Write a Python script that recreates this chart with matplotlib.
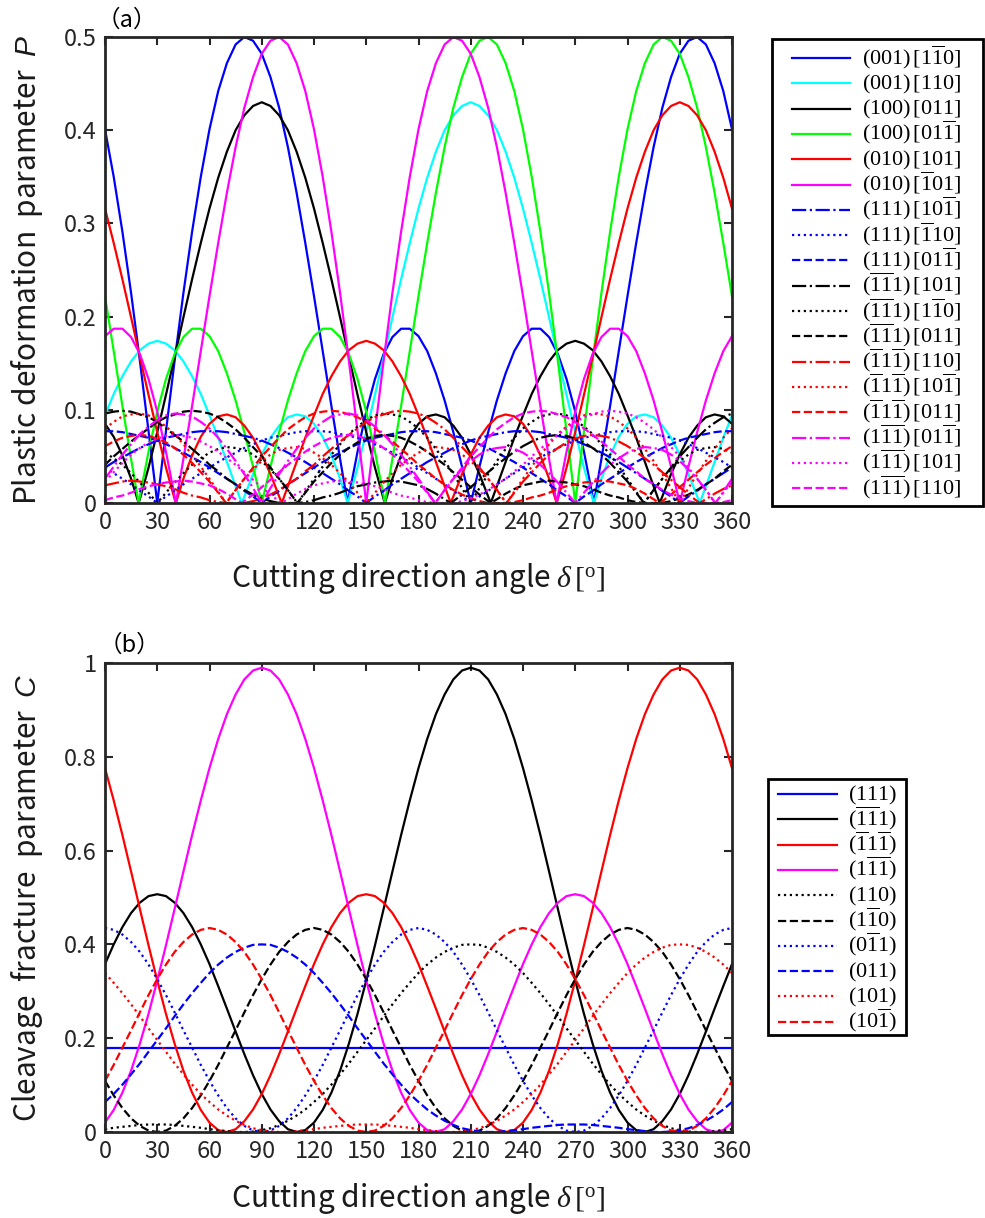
import numpy as np
import matplotlib
matplotlib.use("Agg")
import matplotlib.pyplot as plt
from matplotlib.lines import Line2D
from matplotlib.patches import Rectangle

plt.rcParams['font.family'] = ['Noto Sans CJK JP', 'DejaVu Sans']
plt.rcParams['mathtext.fontset'] = 'custom'
plt.rcParams['mathtext.rm'] = 'Liberation Serif'
plt.rcParams['mathtext.it'] = 'Liberation Serif:italic'
plt.rcParams['mathtext.sf'] = 'Liberation Sans:italic'

# Cutting direction angle (deg), sampled every 5 deg
delta = list(range(0, 361, 5))

# ---- (a) plastic deformation parameter P, values in units of 1e-3 ----
p_001_1b10 = [401,350,291,225,153,77,0,77,153,225,291,350,401,442,472,492,500,496,482,457,424,382,333,279,222,163,104,47,7,55,98,133,160,178,187,187,179,163,139,110,76,39,0,39,76,110,139,163,179,187,187,178,160,133,98,55,7,47,104,163,222,279,333,382,424,457,482,496,500,492,472,442,401]
p_001_110 = [94,117,136,152,164,171,174,171,164,152,136,117,94,70,44,18,7,31,52,70,83,92,95,93,85,71,51,26,4,38,76,116,157,199,240,279,316,349,377,400,416,426,430,426,416,400,377,349,316,279,240,199,157,116,76,38,4,26,51,71,85,93,95,92,83,70,52,31,7,18,44,70,94]
p_100_011 = [85,71,51,26,4,38,76,116,157,199,240,279,316,349,377,400,416,426,430,426,416,400,377,349,316,279,240,199,157,116,76,38,4,26,51,71,85,93,95,92,83,70,52,31,7,18,44,70,94,117,136,152,164,171,174,171,164,152,136,117,94,70,44,18,7,31,52,70,83,92,95,93,85]
p_100_01b1 = [222,163,104,47,7,55,98,133,160,178,187,187,179,163,139,110,76,39,0,39,76,110,139,163,179,187,187,178,160,133,98,55,7,47,104,163,222,279,333,382,424,457,482,496,500,492,472,442,401,350,291,225,153,77,0,77,153,225,291,350,401,442,472,492,500,496,482,457,424,382,333,279,222]
p_010_101 = [316,279,240,199,157,116,76,38,4,26,51,71,85,93,95,92,83,70,52,31,7,18,44,70,94,117,136,152,164,171,174,171,164,152,136,117,94,70,44,18,7,31,52,70,83,92,95,93,85,71,51,26,4,38,76,116,157,199,240,279,316,349,377,400,416,426,430,426,416,400,377,349,316]
p_010_b101 = [179,187,187,178,160,133,98,55,7,47,104,163,222,279,333,382,424,457,482,496,500,492,472,442,401,350,291,225,153,77,0,77,153,225,291,350,401,442,472,492,500,496,482,457,424,382,333,279,222,163,104,47,7,55,98,133,160,178,187,187,179,163,139,110,76,39,0,39,76,110,139,163,179]
p_111_10b1 = [38,44,49,54,59,63,67,70,72,74,76,77,77,77,76,74,72,70,67,63,59,54,49,44,38,32,26,20,13,7,0,7,13,20,26,32,38,44,49,54,59,63,67,70,72,74,76,77,77,77,76,74,72,70,67,63,59,54,49,44,38,32,26,20,13,7,0,7,13,20,26,32,38]
p_111_b110 = [38,32,26,20,13,7,0,7,13,20,26,32,38,44,49,54,59,63,67,70,72,74,76,77,77,77,76,74,72,70,67,63,59,54,49,44,38,32,26,20,13,7,0,7,13,20,26,32,38,44,49,54,59,63,67,70,72,74,76,77,77,77,76,74,72,70,67,63,59,54,49,44,38]
p_111_01b1 = [77,77,76,74,72,70,67,63,59,54,49,44,38,32,26,20,13,7,0,7,13,20,26,32,38,44,49,54,59,63,67,70,72,74,76,77,77,77,76,74,72,70,67,63,59,54,49,44,38,32,26,20,13,7,0,7,13,20,26,32,38,44,49,54,59,63,67,70,72,74,76,77,77]
p_bb1_101 = [96,98,99,98,95,92,87,80,73,66,58,50,41,34,26,20,14,9,5,2,0,0,0,1,3,6,8,11,15,18,20,22,23,24,23,21,19,15,10,4,2,9,17,25,33,41,48,55,61,66,70,72,73,72,69,65,59,52,43,33,23,11,1,14,26,38,50,60,70,79,86,92,96]
p_bb1_1b10 = [54,48,41,32,22,11,0,11,22,32,41,48,54,58,60,59,57,52,45,36,26,14,1,12,26,39,52,63,74,82,89,94,96,95,93,87,80,70,58,45,31,16,0,16,31,45,58,70,80,87,93,95,96,94,89,82,74,63,52,39,26,12,1,14,26,36,45,52,57,59,60,58,54]
p_bb1_011 = [41,50,58,66,73,80,87,92,95,98,99,98,96,92,86,79,70,60,50,38,26,14,1,11,23,33,43,52,59,65,69,72,73,72,70,66,61,55,48,41,33,25,17,9,2,4,10,15,19,21,23,24,23,22,20,18,15,11,8,6,3,1,0,0,0,2,5,9,14,20,26,34,41]
p_b1b_110 = [19,21,23,24,23,22,20,18,15,11,8,6,3,1,0,0,0,2,5,9,14,20,26,34,41,50,58,66,73,80,87,92,95,98,99,98,96,92,86,79,70,60,50,38,26,14,1,11,23,33,43,52,59,65,69,72,73,72,70,66,61,55,48,41,33,25,17,9,2,4,10,15,19]
p_b1b_10b1 = [80,87,93,95,96,94,89,82,74,63,52,39,26,12,1,14,26,36,45,52,57,59,60,58,54,48,41,32,22,11,0,11,22,32,41,48,54,58,60,59,57,52,45,36,26,14,1,12,26,39,52,63,74,82,89,94,96,95,93,87,80,70,58,45,31,16,0,16,31,45,58,70,80]
p_b1b_011 = [61,66,70,72,73,72,69,65,59,52,43,33,23,11,1,14,26,38,50,60,70,79,86,92,96,98,99,98,95,92,87,80,73,66,58,50,41,34,26,20,14,9,5,2,0,0,0,1,3,6,8,11,15,18,20,22,23,24,23,21,19,15,10,4,2,9,17,25,33,41,48,55,61]
p_1bb_01b1 = [26,39,52,63,74,82,89,94,96,95,93,87,80,70,58,45,31,16,0,16,31,45,58,70,80,87,93,95,96,94,89,82,74,63,52,39,26,12,1,14,26,36,45,52,57,59,60,58,54,48,41,32,22,11,0,11,22,32,41,48,54,58,60,59,57,52,45,36,26,14,1,12,26]
p_1bb_101 = [23,33,43,52,59,65,69,72,73,72,70,66,61,55,48,41,33,25,17,9,2,4,10,15,19,21,23,24,23,22,20,18,15,11,8,6,3,1,0,0,0,2,5,9,14,20,26,34,41,50,58,66,73,80,87,92,95,98,99,98,96,92,86,79,70,60,50,38,26,14,1,11,23]
p_1bb_110 = [3,6,8,11,15,18,20,22,23,24,23,21,19,15,10,4,2,9,17,25,33,41,48,55,61,66,70,72,73,72,69,65,59,52,43,33,23,11,1,14,26,38,50,60,70,79,86,92,96,98,99,98,95,92,87,80,73,66,58,50,41,34,26,20,14,9,5,2,0,0,0,1,3]

# Angles (deg) where each P curve touches zero
z_001_1b10 = [30, 139.3, 210, 280.7]
z_001_110 = [78.5, 139.3, 280.7, 341.5]
z_100_011 = [19.3, 160.7, 221.5, 318.5]
z_100_01b1 = [19.3, 90, 160.7, 270]
z_010_101 = [40.7, 101.5, 198.5, 259.3]
z_010_b101 = [40.7, 150, 259.3, 330]
z_111_10b1 = [150, 330]
z_111_b110 = [30, 210]
z_111_01b1 = [90, 270]
z_bb1_101 = [101.5, 110.5, 198.5, 309.5]
z_bb1_1b10 = [30, 110.5, 210, 309.5]
z_bb1_011 = [110.5, 221.5, 309.5, 318.5]
z_b1b_110 = [69.5, 78.5, 230.5, 341.5]
z_b1b_10b1 = [69.5, 150, 230.5, 330]
z_b1b_011 = [69.5, 221.5, 230.5, 318.5]
z_1bb_01b1 = [90, 189.5, 270, 350.5]
z_1bb_101 = [101.5, 189.5, 198.5, 350.5]
z_1bb_110 = [78.5, 189.5, 341.5, 350.5]

p_labels = [r'$\mathrm{(001)\,[1\overline{1}0]}$', r'$\mathrm{(001)\,[110]}$', r'$\mathrm{(100)\,[011]}$',
            r'$\mathrm{(100)\,[01\overline{1}]}$', r'$\mathrm{(010)\,[101]}$', r'$\mathrm{(010)\,[\overline{1}01]}$',
            r'$\mathrm{(111)\,[10\overline{1}]}$', r'$\mathrm{(111)\,[\overline{1}10]}$', r'$\mathrm{(111)\,[01\overline{1}]}$',
            r'$\mathrm{(\overline{11}1)\,[101]}$', r'$\mathrm{(\overline{11}1)\,[1\overline{1}0]}$', r'$\mathrm{(\overline{11}1)\,[011]}$',
            r'$\mathrm{(\overline{1}1\overline{1})\,[110]}$', r'$\mathrm{(\overline{1}1\overline{1})\,[10\overline{1}]}$', r'$\mathrm{(\overline{1}1\overline{1})\,[011]}$',
            r'$\mathrm{(1\overline{11})\,[01\overline{1}]}$', r'$\mathrm{(1\overline{11})\,[101]}$', r'$\mathrm{(1\overline{11})\,[110]}$']

# ---- (b) cleavage fracture parameter C, values in units of 1e-3 ----
c_111 = [180] * 73
c_bb1 = [358,400,437,467,489,503,507,503,489,467,437,400,358,311,263,214,166,121,81,48,23,6,0,4,20,47,84,131,188,252,323,398,476,555,633,707,776,838,891,933,965,984,990,984,965,933,891,838,776,707,633,555,476,398,323,252,188,131,84,47,20,4,0,6,23,48,81,121,166,214,263,311,358]
c_b1b = [776,707,633,555,476,398,323,252,188,131,84,47,20,4,0,6,23,48,81,121,166,214,263,311,358,400,437,467,489,503,507,503,489,467,437,400,358,311,263,214,166,121,81,48,23,6,0,4,20,47,84,131,188,252,323,398,476,555,633,707,776,838,891,933,965,984,990,984,965,933,891,838,776]
c_1bb = [20,47,84,131,188,252,323,398,476,555,633,707,776,838,891,933,965,984,990,984,965,933,891,838,776,707,633,555,476,398,323,252,188,131,84,47,20,4,0,6,23,48,81,121,166,214,263,311,358,400,437,467,489,503,507,503,489,467,437,400,358,311,263,214,166,121,81,48,23,6,0,4,20]
c_110 = [6,9,11,13,15,16,16,16,15,13,11,9,6,4,2,0,0,1,4,8,15,24,35,48,64,81,101,123,146,171,196,221,247,272,296,318,339,357,372,384,393,399,400,399,393,384,372,357,339,318,296,272,247,221,196,171,146,123,101,81,64,48,35,24,15,8,4,1,0,0,2,4,6]
c_1b0 = [109,78,51,29,13,3,0,3,13,29,51,78,109,143,180,217,255,292,326,357,384,405,421,431,435,431,421,405,384,357,326,292,255,217,180,143,109,78,51,29,13,3,0,3,13,29,51,78,109,143,180,217,255,292,326,357,384,405,421,431,435,431,421,405,384,357,326,292,255,217,180,143,109]
c_0b1 = [435,431,421,405,384,357,326,292,255,217,180,143,109,78,51,29,13,3,0,3,13,29,51,78,109,143,180,217,255,292,326,357,384,405,421,431,435,431,421,405,384,357,326,292,255,217,180,143,109,78,51,29,13,3,0,3,13,29,51,78,109,143,180,217,255,292,326,357,384,405,421,431,435]
c_011 = [64,81,101,123,146,171,196,221,247,272,296,318,339,357,372,384,393,399,400,399,393,384,372,357,339,318,296,272,247,221,196,171,146,123,101,81,64,48,35,24,15,8,4,1,0,0,2,4,6,9,11,13,15,16,16,16,15,13,11,9,6,4,2,0,0,1,4,8,15,24,35,48,64]
c_101 = [339,318,296,272,247,221,196,171,146,123,101,81,64,48,35,24,15,8,4,1,0,0,2,4,6,9,11,13,15,16,16,16,15,13,11,9,6,4,2,0,0,1,4,8,15,24,35,48,64,81,101,123,146,171,196,221,247,272,296,318,339,357,372,384,393,399,400,399,393,384,372,357,339]
c_10b1 = [109,143,180,217,255,292,326,357,384,405,421,431,435,431,421,405,384,357,326,292,255,217,180,143,109,78,51,29,13,3,0,3,13,29,51,78,109,143,180,217,255,292,326,357,384,405,421,431,435,431,421,405,384,357,326,292,255,217,180,143,109,78,51,29,13,3,0,3,13,29,51,78,109]

c_labels = [r'$\mathrm{(111)}$', r'$\mathrm{(\overline{11}1)}$', r'$\mathrm{(\overline{1}1\overline{1})}$', r'$\mathrm{(1\overline{11})}$',
            r'$\mathrm{(110)}$', r'$\mathrm{(1\overline{1}0)}$', r'$\mathrm{(0\overline{1}1)}$', r'$\mathrm{(011)}$',
            r'$\mathrm{(101)}$', r'$\mathrm{(10\overline{1})}$']

p_series = [p_001_1b10, p_001_110, p_100_011, p_100_01b1, p_010_101, p_010_b101,
            p_111_10b1, p_111_b110, p_111_01b1, p_bb1_101, p_bb1_1b10, p_bb1_011,
            p_b1b_110, p_b1b_10b1, p_b1b_011, p_1bb_01b1, p_1bb_101, p_1bb_110]
p_zeros = [z_001_1b10, z_001_110, z_100_011, z_100_01b1, z_010_101, z_010_b101,
           z_111_10b1, z_111_b110, z_111_01b1, z_bb1_101, z_bb1_1b10, z_bb1_011,
           z_b1b_110, z_b1b_10b1, z_b1b_011, z_1bb_01b1, z_1bb_101, z_1bb_110]
c_series = [c_111, c_bb1, c_b1b, c_1bb, c_110, c_1b0, c_0b1, c_011, c_101, c_10b1]

BLUE, CYAN, BLACK, GREEN, RED, MAGENTA = '#0000ff', '#00ffff', '#000000', '#00ff00', '#ff0000', '#ff00ff'
p_colors = [BLUE, CYAN, BLACK, GREEN, RED, MAGENTA] + [BLUE]*3 + [BLACK]*3 + [RED]*3 + [MAGENTA]*3
p_styles = ['-']*6 + ['-.', ':', '--']*4
c_colors = [BLUE, BLACK, RED, MAGENTA, BLACK, BLACK, BLUE, BLUE, RED, RED]
c_styles = ['-']*4 + [':', '--']*3
LW = 1.6

W, H = 985, 1218
fig = plt.figure(figsize=(W/100, H/100), dpi=100)
axa = fig.add_axes([105/W, 1-503/H, 627/W, 466/H])
axb = fig.add_axes([105/W, 1-1132/H, 627/W, 469/H])

d = np.array(delta, float)
for vals, zs, col, ls in zip(p_series, p_zeros, p_colors, p_styles):
    x = np.concatenate([d, np.array(zs, float)])
    y = np.concatenate([np.array(vals, float) / 1000.0, np.zeros(len(zs))])
    order = np.argsort(x, kind='stable')
    axa.plot(x[order], y[order], color=col, ls=ls, lw=LW)
for vals, col, ls in zip(c_series, c_colors, c_styles):
    axb.plot(d, np.array(vals, float) / 1000.0, color=col, ls=ls, lw=LW)

for ax, ymax, yt, ytl in [(axa, 0.5, [0, 0.1, 0.2, 0.3, 0.4, 0.5], ['0', '0.1', '0.2', '0.3', '0.4', '0.5']),
                          (axb, 1.0, [0, 0.2, 0.4, 0.6, 0.8, 1.0], ['0', '0.2', '0.4', '0.6', '0.8', '1'])]:
    ax.set_xlim(0, 360); ax.set_ylim(0, ymax)
    ax.set_xticks(range(0, 361, 30)); ax.set_yticks(yt); ax.set_yticklabels(ytl)
    ax.tick_params(direction='in', top=True, right=True, length=6, width=1.5,
                   labelsize=17, colors='#262626', pad=6)
    for sp in ax.spines.values():
        sp.set_linewidth(2); sp.set_color('#262626')
    ax.set_xlabel(r'Cutting direction angle $\mathit{\delta}\,\mathrm{[^o]}$', fontsize=21.5, color='#1a1a1a')
    ax.yaxis.set_label_coords(-0.095, 0.5)
axa.xaxis.set_label_coords(0.5, -0.125)
axb.xaxis.set_label_coords(0.5, -0.105)
axa.set_ylabel(r'Plastic deformation  parameter  $\mathsf{P}$', fontsize=21.5, color='#1a1a1a')
axb.set_ylabel(r'Cleavage  fracture  parameter  $\mathsf{C}$', fontsize=21.5, color='#1a1a1a')

fig.text(127/W, 1-20/H, '（a）', ha='center', va='center', fontsize=17)
fig.text(129/W, 1-645/H, '（b）', ha='center', va='center', fontsize=17)


def key(x0, x1, xt, yc0, dy, colors, styles, labels, box):
    """Legend column: sample line + label per row, inside a framed box."""
    for i, (c, ls, lab) in enumerate(zip(colors, styles, labels)):
        yc = yc0 + dy * i
        fig.add_artist(Line2D([x0/W, x1/W], [1-yc/H, 1-yc/H], transform=fig.transFigure,
                              color=c, ls=ls, lw=LW))
        fig.text(xt/W, 1-(yc+6)/H, lab, ha='left', va='baseline', fontsize=16)
    bx0, by0, bx1, by1 = box
    fig.add_artist(Rectangle((bx0/W, 1-by1/H), (bx1-bx0)/W, (by1-by0)/H, transform=fig.transFigure,
                             fill=False, lw=2, ec='k'))


key(792, 850, 862, 58, 25.3, p_colors, p_styles, p_labels, (772, 39, 983, 506))
key(778, 837, 848, 794, 25.3, c_colors, c_styles, c_labels, (768, 779, 906, 1035))

fig.savefig('out.png', dpi=100)
